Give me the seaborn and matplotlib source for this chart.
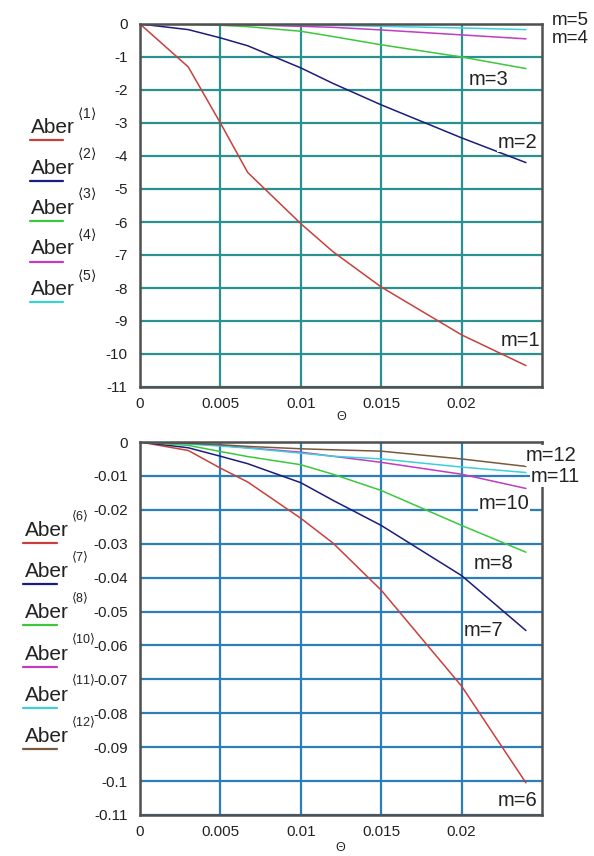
import numpy as np
import pandas as pd
import matplotlib
matplotlib.use("Agg")
import matplotlib.pyplot as plt
from matplotlib.lines import Line2D
import seaborn as sns

sns.set_style("white")
plt.rcParams['font.family'] = ['Liberation Sans', 'DejaVu Sans']
plt.rcParams['mathtext.fontset'] = 'dejavusans'

# ---- data ----
theta = [0, 0.003, 0.005, 0.0067, 0.01, 0.012, 0.015, 0.02, 0.024]

top_labels = ["m=1", "m=2", "m=3", "m=4", "m=5"]
top_idx = ["1", "2", "3", "4", "5"]
m1 = [0, -1.3, -3.0, -4.5, -6.05, -6.9, -7.97, -9.42, -10.35]
m2 = [0, -0.17, -0.42, -0.66, -1.33, -1.8, -2.45, -3.45, -4.2]
m3 = [0, -0.01, -0.04, -0.08, -0.22, -0.38, -0.63, -1.0, -1.35]
m4 = [0, -0.005, -0.015, -0.03, -0.07, -0.1, -0.18, -0.33, -0.45]
m5 = [0, 0, -0.005, -0.01, -0.025, -0.04, -0.07, -0.12, -0.17]

bot_labels = ["m=6", "m=7", "m=8", "m=10", "m=11", "m=12"]
bot_idx = ["6", "7", "8", "10", "11", "12"]
m6 = [0, -0.0025, -0.0077, -0.0118, -0.0225, -0.0298, -0.0437, -0.072, -0.1005]
m7 = [0, -0.0017, -0.0042, -0.0064, -0.012, -0.0172, -0.0246, -0.0394, -0.0556]
m8 = [0, -0.001, -0.0028, -0.0043, -0.0067, -0.0095, -0.0143, -0.0246, -0.0325]
m10 = [0, -0.0005, -0.001, -0.0017, -0.003, -0.0042, -0.006, -0.0095, -0.0137]
m11 = [0, -0.0006, -0.0012, -0.0018, -0.0033, -0.0042, -0.005, -0.0074, -0.009]
m12 = [0, -0.0004, -0.0008, -0.0013, -0.002, -0.0023, -0.0027, -0.005, -0.0072]

x_ticks = [0, 0.005, 0.01, 0.015, 0.02]
x_ticklabels = ["0", "0.005", "0.01", "0.015", "0.02"]
top_yticks = [0, -1, -2, -3, -4, -5, -6, -7, -8, -9, -10, -11]
bot_yticks = [0, -0.01, -0.02, -0.03, -0.04, -0.05, -0.06, -0.07, -0.08, -0.09, -0.1, -0.11]
bot_yticklabels = ["0", "-0.01", "-0.02", "-0.03", "-0.04", "-0.05", "-0.06",
                   "-0.07", "-0.08", "-0.09", "-0.1", "-0.11"]

top_colors = ["#c8403c", "#1c1c7c", "#3cc83c", "#c03cc0", "#3cd0d8"]
bot_colors = ["#c8403c", "#1c1c7c", "#3cc83c", "#c03cc0", "#3cd0d8", "#7a5a3a"]

# label positions (data coords): (x, y)
top_lab_pos = [(0.0224, -9.58), (0.02226, -3.58), (0.02045, -1.67), (0.0256, -0.45), (0.0256, 0.12)]
bot_lab_pos = [(0.02226, -0.1057), (0.02014, -0.0556), (0.02076, -0.0357),
               (0.02107, -0.0181), (0.0243, -0.0102), (0.0240, -0.0040)]

W, H = 594, 856
fig = plt.figure(figsize=(W / 100, H / 100), dpi=100)
fig.patch.set_facecolor("white")

def px(x, y):
    return x / W, 1 - y / H

ax1 = fig.add_axes([140 / W, 1 - 387 / H, 402 / W, 363 / H])
ax2 = fig.add_axes([140 / W, 1 - 815 / H, 402 / W, 373 / H])

def long_df(series, labels):
    rows = []
    for lab, vals in zip(labels, series):
        for t, v in zip(theta, vals):
            rows.append({"theta": t, "val": v, "m": lab})
    return pd.DataFrame(rows)

df_top = long_df([m1, m2, m3, m4, m5], top_labels)
df_bot = long_df([m6, m7, m8, m10, m11, m12], bot_labels)

def style_axes(ax, yticks, yticklabels, ylim, gridcolor):
    ax.set_xlim(0, 0.025)
    ax.set_ylim(*ylim)
    ax.set_xticks(x_ticks)
    ax.set_xticklabels(x_ticklabels)
    ax.set_yticks(yticks)
    ax.set_yticklabels(yticklabels)
    ax.tick_params(axis='both', length=0, labelsize=11, colors="#222222")
    ax.tick_params(axis='y', pad=9)
    ax.tick_params(axis='x', pad=7)
    ax.grid(True, color=gridcolor, linewidth=1.6)
    ax.set_axisbelow(True)
    for s in ax.spines.values():
        s.set_visible(True)
        s.set_color("#505050")
        s.set_linewidth(1.8)
    ax.set_xlabel("")
    ax.set_ylabel("")

sns.lineplot(data=df_top, x="theta", y="val", hue="m", palette=top_colors,
             hue_order=top_labels, legend=False, sort=False, estimator=None,
             linewidth=1.1, ax=ax1)
sns.lineplot(data=df_bot, x="theta", y="val", hue="m", palette=bot_colors,
             hue_order=bot_labels, legend=False, sort=False, estimator=None,
             linewidth=1.1, ax=ax2)

style_axes(ax1, top_yticks, [str(v) for v in top_yticks], (-11, 0), "#2a9090")
style_axes(ax2, bot_yticks, bot_yticklabels, (-0.11, 0), "#2a7fb8")

for i, (lab, (x, y)) in enumerate(zip(top_labels, top_lab_pos)):
    outside = i >= 3
    ax1.text(x, y, lab, fontsize=13.5 if outside else 14.5, va='center', ha='left',
             color="#222222", clip_on=False, zorder=5,
             bbox=None if outside else dict(facecolor='white', edgecolor='none', pad=0.5))
for lab, (x, y) in zip(bot_labels, bot_lab_pos):
    ax2.text(x, y, lab, fontsize=14.5, va='center', ha='left', color="#222222",
             clip_on=False, zorder=5,
             bbox=dict(facecolor='white', edgecolor='none', pad=0.5))

# x labels (Theta)
fig.text(*px(341, 417), "Θ", fontsize=9, ha='center', va='center', color="#222222")
fig.text(*px(340, 848), "Θ", fontsize=9, ha='center', va='center', color="#222222")

# left-side legends
def legend_block(idx, colors, x_text, base0, step, line_x0, line_x1, line_off, sup_x, sup_fs):
    for i, (k, c) in enumerate(zip(idx, colors)):
        base = base0 + step * i
        fig.text(*px(x_text, base), "Aber", fontsize=15, ha='left', va='baseline',
                 color="#222222")
        fig.text(*px(sup_x, base - 20), r"$\langle$" + k + r"$\rangle$", fontsize=sup_fs,
                 ha='left', va='center', color="#222222")
        fig.add_artist(Line2D([line_x0 / W, line_x1 / W],
                              [1 - (base + line_off) / H, 1 - (base + line_off) / H],
                              color=c, linewidth=1.6))

legend_block(top_idx, top_colors, 31, 133, 40.5, 30, 63, 7, 77, 10)
legend_block(bot_idx, bot_colors, 25, 536, 41.2, 23, 57, 7, 71, 9)

fig.savefig("out.png", dpi=100, facecolor="white")
